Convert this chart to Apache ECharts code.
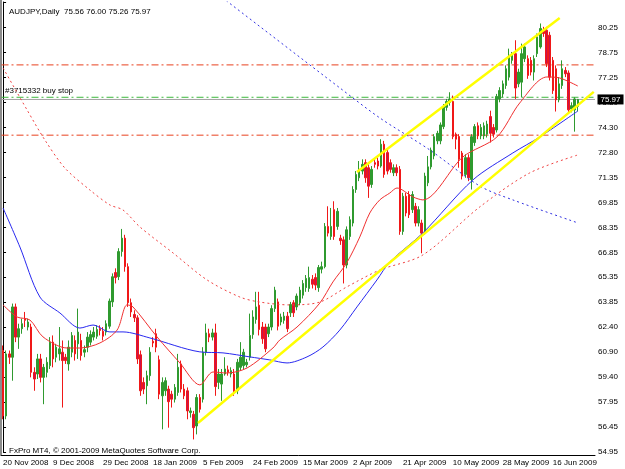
<!DOCTYPE html>
<html>
<head>
<meta charset="utf-8">
<title>AUDJPY Daily</title>
<script src="https://cdn.jsdelivr.net/npm/echarts@6/dist/echarts.min.js"></script>
<style>
  html, body { margin: 0; padding: 0; background: #fff; }
  #chart { width: 625px; height: 469px; }
</style>
</head>
<body>
<div id="chart"></div>
<script>
// daily bars, [open, close, low, high]
const candles = [
  [61.0, 57.1, 56.9, 61.3], [57.1, 60.8, 56.9, 61.0], [60.8, 60.6, 60.2, 61.0], [60.6, 63.6, 59.2, 63.8],
  [63.6, 61.8, 61.5, 63.8], [61.8, 62.3, 61.1, 62.6], [62.3, 62.6, 62.0, 62.9], [62.9, 62.8, 62.4, 63.3],
  [62.4, 62.7, 62.2, 62.9], [62.4, 59.7, 59.4, 62.6], [59.7, 59.3, 58.6, 60.0], [59.6, 60.5, 59.3, 60.8],
  [60.5, 59.4, 59.1, 60.8], [59.4, 60.0, 57.8, 60.2], [59.7, 60.3, 59.4, 60.6], [60.1, 61.5, 59.9, 61.8],
  [61.5, 60.5, 60.0, 61.9], [60.6, 61.2, 60.3, 61.4], [60.8, 61.1, 60.4, 62.4], [60.9, 60.4, 57.6, 61.6],
  [60.6, 60.4, 60.2, 60.8], [60.2, 61.2, 59.8, 61.6], [60.9, 61.9, 60.6, 62.1], [61.6, 60.8, 60.4, 61.9],
  [61.4, 62.1, 60.5, 63.5], [61.6, 60.7, 60.4, 62.0], [60.9, 61.05, 60.6, 61.3], [61.2, 61.8, 60.9, 62.1],
  [61.5, 61.95, 61.3, 62.2], [61.8, 62.1, 61.6, 62.4], [61.85, 62.25, 61.7, 62.5], [62.3, 62.2, 61.9, 62.5],
  [62.15, 61.85, 61.6, 62.4], [62.1, 62.6, 61.9, 62.8], [62.45, 63.95, 62.3, 64.1], [63.9, 65.4, 63.6, 65.6],
  [65.65, 65.35, 65.0, 65.9], [65.4, 66.9, 65.2, 67.1], [66.9, 67.7, 66.6, 68.25], [67.7, 66.0, 65.7, 67.9],
  [66.0, 63.85, 63.6, 66.2], [63.85, 63.3, 63.0, 64.1], [63.15, 62.95, 62.7, 63.4], [62.95, 60.5, 60.2, 63.1],
  [60.75, 58.6, 58.3, 61.0], [59.1, 58.7, 58.4, 59.4], [58.9, 59.5, 57.8, 59.8], [59.5, 60.9, 59.2, 61.2],
  [61.55, 61.45, 61.2, 61.8], [62.0, 61.2, 60.9, 62.3], [60.45, 58.4, 58.1, 60.7], [58.3, 59.1, 56.3, 59.4],
  [58.6, 59.2, 58.3, 59.4], [58.7, 57.95, 56.4, 58.9], [58.4, 58.1, 57.6, 58.6], [58.1, 58.8, 57.9, 59.0],
  [58.5, 60.0, 58.3, 60.8], [60.2, 58.7, 58.5, 60.4], [58.7, 58.3, 58.1, 59.0], [58.6, 57.4, 56.9, 58.8],
  [57.3, 57.4, 57.0, 57.6], [57.2, 56.4, 55.7, 57.4], [56.5, 58.2, 56.0, 58.4], [58.2, 57.5, 57.3, 58.4],
  [58.1, 60.9, 57.9, 61.2], [60.9, 62.05, 60.7, 62.6], [62.0, 61.8, 61.5, 62.3], [61.8, 62.05, 61.6, 62.3],
  [62.05, 58.85, 58.3, 62.6], [59.1, 59.6, 58.7, 59.9], [59.0, 59.6, 58.0, 59.9], [59.6, 59.9, 59.5, 60.6],
  [59.85, 59.7, 59.5, 60.1], [59.6, 59.8, 59.4, 60.0], [59.6, 58.5, 58.3, 59.9], [58.6, 60.3, 58.4, 60.5],
  [60.0, 60.6, 59.8, 61.5], [60.1, 60.9, 59.9, 61.1], [60.15, 60.3, 60.0, 60.5], [60.6, 61.9, 60.4, 63.2],
  [61.95, 63.0, 61.7, 63.4], [62.85, 63.6, 62.6, 64.5], [63.7, 62.25, 61.9, 64.5], [62.4, 61.7, 61.4, 62.7],
  [62.4, 61.1, 60.9, 62.6], [62.0, 62.4, 61.8, 62.6], [62.4, 63.5, 62.2, 63.7], [63.5, 64.6, 63.3, 64.8],
  [63.9, 62.45, 62.2, 64.1],
  [62.7, 63.0, 62.5, 63.2], [62.8, 63.05, 62.6, 63.3], [63.05, 62.3, 62.1, 63.3], [63.25, 63.75, 63.0, 63.9],
  [63.85, 63.25, 63.0, 64.0], [63.6, 64.25, 63.4, 64.4], [63.85, 64.6, 63.7, 64.8], [64.3, 65.0, 64.1, 65.2],
  [64.75, 65.3, 64.5, 65.5], [64.7, 65.35, 64.5, 66.0], [65.25, 64.95, 64.7, 65.5], [65.35, 64.9, 64.6, 65.6],
  [64.75, 65.95, 64.5, 66.1], [65.85, 66.0, 65.6, 66.3], [66.0, 68.4, 65.9, 68.6], [68.4, 68.0, 67.8, 69.6],
  [67.8, 68.4, 67.6, 69.5], [69.4, 67.8, 67.6, 69.9], [68.4, 69.3, 68.2, 69.5], [67.7, 67.55, 67.3, 67.9],
  [67.6, 66.1, 65.0, 67.8], [66.1, 68.2, 65.9, 68.4], [67.8, 68.8, 67.6, 69.0], [68.6, 70.6, 68.4, 70.8],
  [70.6, 71.5, 70.4, 71.7], [71.3, 71.8, 71.1, 72.3], [71.7, 72.1, 71.5, 72.4], [72.2, 71.3, 71.0, 72.4],
  [71.9, 70.8, 70.1, 72.1], [70.9, 71.8, 70.7, 72.0], [72.2, 72.1, 71.9, 72.4], [72.3, 72.0, 71.8, 72.5],
  [72.0, 73.3, 71.9, 73.6], [73.3, 71.5, 71.3, 73.5], [72.8, 71.7, 71.5, 73.0], [72.2, 71.8, 71.6, 72.4],
  [71.6, 71.9, 71.4, 72.1], [71.9, 71.6, 71.4, 72.1], [71.8, 68.1, 67.9, 72.0],
  [68.1, 70.2, 67.9, 70.4], [70.2, 69.2, 69.0, 70.4], [70.3, 69.1, 68.9, 70.5], [69.4, 70.3, 69.2, 70.5],
  [69.6, 68.6, 68.4, 69.8], [68.6, 69.4, 68.4, 69.6], [68.6, 68.0, 66.8, 68.8], [68.0, 71.4, 67.9, 71.6],
  [71.0, 71.95, 70.8, 72.6], [71.95, 72.95, 71.8, 73.1], [72.6, 73.75, 72.4, 73.9], [73.5, 73.95, 73.3, 74.1],
  [73.5, 74.45, 73.3, 74.6], [74.35, 75.55, 74.2, 75.7], [75.5, 75.85, 75.3, 76.0], [75.8, 76.0, 75.6, 76.4],
  [75.85, 73.75, 73.6, 76.2], [73.9, 73.6, 73.0, 74.0], [73.76, 72.4, 71.9, 73.9], [72.77, 71.4, 71.2, 72.9],
  [71.5, 72.5, 71.3, 72.7], [72.5, 71.3, 71.1, 72.7], [71.2, 73.75, 70.6, 73.9], [73.4, 74.35, 73.2, 74.5],
  [74.4, 73.8, 73.6, 74.6], [73.8, 74.3, 73.6, 74.5], [73.8, 74.4, 73.6, 74.6], [73.9, 74.5, 73.7, 74.7],
  [74.95, 73.95, 73.4, 75.3], [74.3, 73.9, 73.7, 74.5], [74.15, 76.15, 74.0, 76.3], [76.0, 76.5, 75.8, 76.7],
  [76.3, 76.9, 76.1, 77.1], [76.8, 77.8, 76.6, 78.0], [77.3, 78.6, 77.1, 79.0], [78.3, 78.6, 78.1, 78.8],
  [78.7, 76.65, 76.0, 79.5], [76.9, 77.6, 76.7, 77.8], [77.0, 78.7, 76.1, 79.3], [78.4, 79.1, 78.2, 79.3],
  [78.4, 77.4, 77.2, 78.6], [78.3, 77.6, 77.4, 78.5], [77.6, 78.4, 77.1, 78.6], [78.7, 79.7, 78.5, 79.9],
  [79.1, 80.2, 79.0, 80.5], [80.1, 79.9, 79.7, 80.3], [80.1, 78.1, 77.9, 80.3], [79.8, 77.3, 77.1, 80.0],
  [78.3, 76.5, 76.3, 78.5], [77.8, 75.95, 75.25, 78.0], [75.95, 76.9, 75.8, 77.3], [76.8, 77.8, 76.6, 78.3],
  [77.7, 77.5, 77.3, 77.9], [77.55, 75.35, 75.2, 77.7], [75.4, 75.6, 75.2, 75.8], [75.35, 76.0, 74.05, 76.1],
  [75.56, 75.97, 75.26, 76.0]
]

const dateLabels = ['20 Nov 2008', '9 Dec 2008', '29 Dec 2008', '18 Jan 2009', '5 Feb 2009', '24 Feb 2009',
  '15 Mar 2009', '2 Apr 2009', '21 Apr 2009', '10 May 2009', '28 May 2009', '16 Jun 2009']
const priceLabels = ['54.95', '56.45', '57.95', '59.40', '60.90', '62.40', '63.85', '65.35', '66.85',
  '68.35', '69.85', '71.35', '72.80', '74.30', '75.80', '77.25', '78.75', '80.25']

// moving averages, [bar index, price]
const maFast = [[0, 63.72], [4.5, 63.0], [8.6, 62.82], [12.8, 61.81], [20.5, 61.15], [24.6, 61.15], [31, 61.45],
  [36.5, 62.22], [39.7, 63.72], [41.6, 63.6], [49.3, 61.81], [56.6, 60.26], [63, 58.95], [67.2, 59.72],
  [71.7, 59.66], [78.1, 59.96], [86.4, 61.15], [88.6, 61.63], [94.1, 62.4], [101.4, 63.83], [105.6, 65.09],
  [110, 66.22], [114.2, 67.77], [117.4, 69.2], [120.6, 69.98], [123.8, 70.39], [126.1, 70.69], [131.2, 70.16],
  [134.4, 69.98], [147.2, 72.54], [158.1, 73.73], [165.4, 75.76], [174.1, 77.31], [178.2, 77.25], [184, 76.77]]
const maSlow = [[0, 77.85], [7.7, 75.34], [13.4, 73.55], [19.8, 71.88], [27.8, 70.57], [34.2, 69.68], [38.4, 69.38],
  [43.8, 68.37], [54.4, 66.82], [65.3, 65.21], [75.8, 64.19], [82.2, 63.89], [91.8, 63.72], [101.4, 63.89],
  [110, 64.79], [120.6, 65.8], [134.4, 66.7], [152.6, 69.56], [168.6, 71.59], [184, 72.66]]
const maMid = [[0, 69.5], [5.4, 67.17], [11.8, 64.19], [18.2, 63.24], [24.6, 62.34], [28.8, 62.52], [34.2, 62.11],
  [38.4, 62.11], [47, 61.75], [63, 60.92], [70.4, 60.86], [79, 60.62], [85.4, 60.44], [90.9, 60.26], [97.3, 60.62],
  [102.4, 61.21], [107.8, 62.22], [113.3, 63.6], [119.7, 65.21], [123.8, 66.28], [134.4, 68.01], [150.4, 71.17],
  [163.2, 72.78], [171.8, 73.73], [184, 75.28]]
const maLong = [[60, 83.5], [72, 81.78], [107.8, 76.66], [120.6, 74.87], [136.6, 72.96], [152.6, 70.81],
  [163.2, 69.98], [184, 68.61]]

// channel lines
const channelUpper = [[113.3, 71.65], [178.2, 80.83]]
const channelLower = [[62.4, 56.68], [189.1, 76.42]]

// horizontal levels
const levelRedHigh = 78.03
const levelRedLow = 73.84
const levelOrder = 76.10
const lastPrice = 75.97

const FONT = 'Liberation Sans, Arial, sans-serif'
const yMin = 54.95
const yStep = 1.488235
const totalBars = 190
const categories = []
for (let i = 0; i < totalBars; i++) categories.push(String(i))

const last = candles[candles.length - 1]
const header = 'AUDJPY,Daily  ' + [last[0], last[3], last[2], last[1]].map(v => v.toFixed(2)).join(' ')

const dashDot = [7, 3, 2, 3]
const xLeft = -0.5
const xRight = totalBars - 0.5

// a horizontal level drawn as a two-point line across the whole grid
function levelSeries(value, color, type, startLabel, endLabel) {
  const p0 = { value: [xLeft, value] }
  const p1 = { value: [xRight, value] }
  if (startLabel) p0.label = Object.assign({ show: true }, startLabel)
  if (endLabel) p1.label = Object.assign({ show: true }, endLabel)
  return {
    type: 'line', xAxisIndex: 1, data: [p0, p1], z: 1,
    symbol: 'circle', symbolSize: 1, showSymbol: true,
    itemStyle: { color: 'rgba(255,255,255,0)', borderWidth: 0 },
    label: { show: false },
    lineStyle: { color: color, width: 1, type: type },
    silent: true
  }
}

const chart = echarts.init(document.getElementById('chart'))
chart.setOption({
  animation: false,
  backgroundColor: '#fff',
  textStyle: { fontFamily: FONT },
  title: [
    { text: header, left: 4, top: 3, textStyle: { fontSize: 8, fontWeight: 'normal', color: '#000', fontFamily: FONT } },
    { text: 'FxPro MT4, © 2001-2009 MetaQuotes Software Corp.', left: 4, top: 442,
      textStyle: { fontSize: 8, fontWeight: 'normal', color: '#000', fontFamily: FONT } }
  ],
  grid: { left: 1.5, right: 30, top: 2, bottom: 17, outerBoundsMode: 'none' },
  xAxis: [
    {
      type: 'category',
      data: categories,
      boundaryGap: true,
      offset: 3.5,
      axisLine: { lineStyle: { color: '#000', width: 1 } },
      axisTick: { interval: 15, alignWithLabel: true, length: 3, lineStyle: { color: '#000' } },
      axisLabel: {
        interval: 15, align: 'left', margin: 3, fontSize: 8, color: '#000', fontFamily: FONT,
        formatter: (v, i) => dateLabels[i / 16] || ''
      },
      splitLine: { show: false }
    },
    { type: 'value', min: xLeft, max: xRight, show: false }
  ],
  yAxis: {
    type: 'value',
    position: 'right',
    min: yMin,
    max: 81.78,
    interval: yStep,
    axisLine: { show: true, lineStyle: { color: '#000' } },
    axisTick: { show: true, length: 3, lineStyle: { color: '#000' } },
    axisLabel: {
      margin: 3, fontSize: 8, color: '#000', fontFamily: FONT,
      formatter: v => priceLabels[Math.round((v - yMin) / yStep)] || ''
    },
    splitLine: { show: false }
  },
  graphic: [
    { type: 'line', shape: { x1: 1, y1: 0, x2: 1, y2: 456 }, style: { stroke: '#8c8c8c', lineWidth: 2 }, silent: true }
  ],
  series: [
    levelSeries(levelRedHigh, '#e8401e', dashDot),
    levelSeries(levelRedLow, '#e8401e', dashDot),
    levelSeries(levelOrder, '#3cb83c', dashDot, {
      position: 'right', distance: 3, offset: [0, -6], formatter: '#3715332 buy stop',
      color: '#000', fontSize: 8, fontFamily: FONT
    }),
    levelSeries(lastPrice, '#a0a0a0', 'solid', null, {
      position: 'right', distance: 2, formatter: lastPrice.toFixed(2), color: '#fff',
      backgroundColor: '#000', padding: [1, 3], fontSize: 8, fontFamily: FONT
    }),
    {
      type: 'candlestick',
      data: candles,
      barWidth: 2,
      z: 2,
      itemStyle: {
        color: '#2f9a2f', color0: '#c8124f',
        borderColor: '#2f9a2f', borderColor0: '#f01818', borderWidth: 1
      }
    },
    {
      type: 'line', xAxisIndex: 1, data: maSlow, smooth: 0.3, symbol: 'none', z: 3,
      lineStyle: { color: '#f04040', width: 1, type: [2, 3] }
    },
    {
      type: 'line', xAxisIndex: 1, data: maLong, smooth: 0.3, symbol: 'none', z: 3,
      lineStyle: { color: '#3030e0', width: 1, type: [2, 3] }
    },
    {
      type: 'line', xAxisIndex: 1, data: maMid, smooth: 0.3, symbol: 'none', z: 3,
      lineStyle: { color: '#2828f0', width: 1 }
    },
    {
      type: 'line', xAxisIndex: 1, data: maFast, smooth: 0.3, symbol: 'none', z: 3,
      lineStyle: { color: '#f03030', width: 1 }
    },
    {
      type: 'line', xAxisIndex: 1, data: channelLower, symbol: 'none', z: 3,
      lineStyle: { color: '#ffff00', width: 2.5 }
    },
    {
      type: 'line', xAxisIndex: 1, data: channelUpper, symbol: 'none', z: 3,
      lineStyle: { color: '#ffff00', width: 2.5 }
    }
  ]
})
</script>
</body>
</html>
